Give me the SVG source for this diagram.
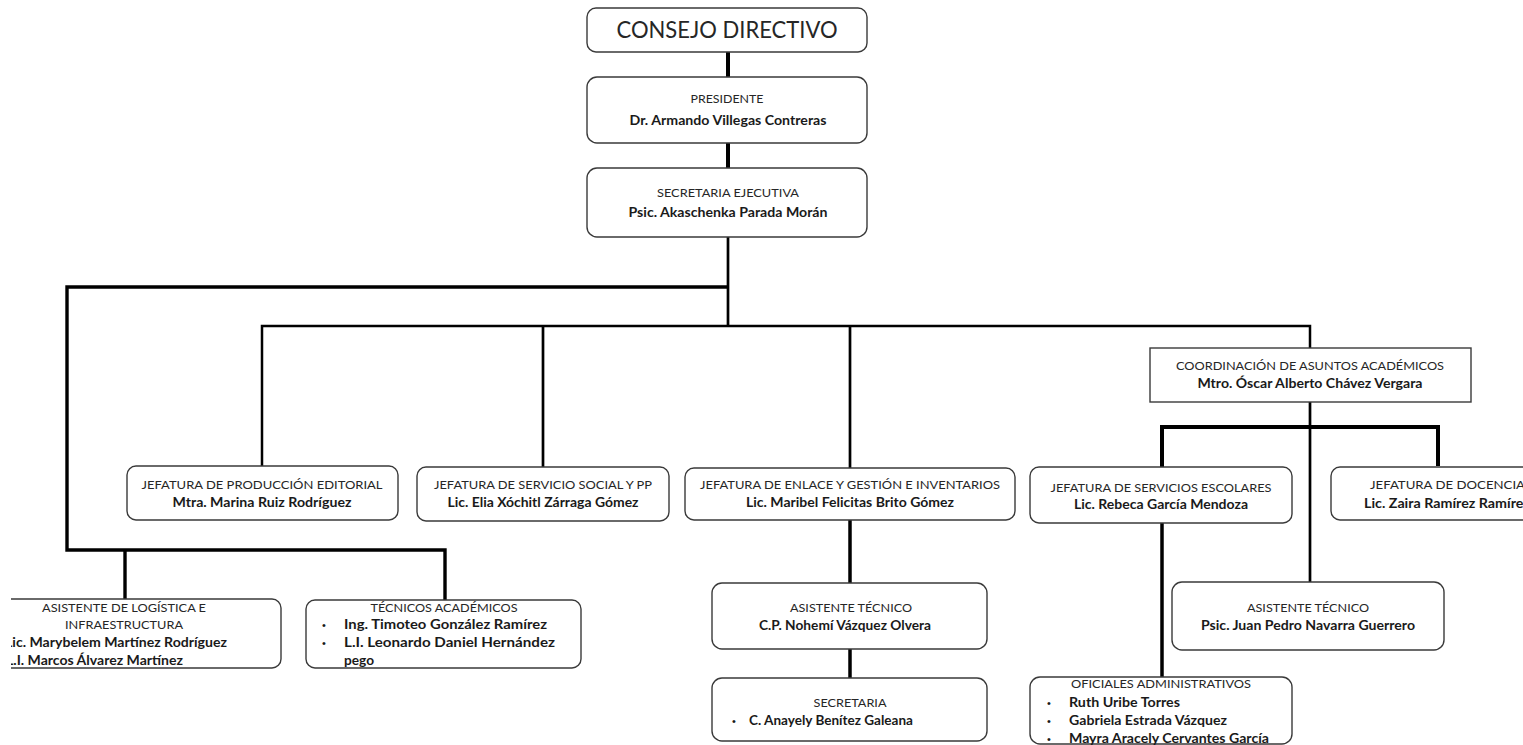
<svg xmlns="http://www.w3.org/2000/svg" width="1523" height="745" viewBox="0 0 1523 745">
<defs>
<style>
.box{fill:#fff;stroke:#3a3a3a;stroke-width:1.4}
.t{font-family:Lato,"Liberation Sans",sans-serif;font-size:12px;fill:#262626;text-anchor:middle}
.n{font-family:Lato,"Liberation Sans",sans-serif;font-size:12.5px;font-weight:bold;fill:#1a1a1a;text-anchor:middle}
.s{text-anchor:start}
.b{font-family:"Liberation Sans",sans-serif;font-size:11px;fill:#1a1a1a;text-anchor:middle}
#connectors path{fill:none;stroke:#000;stroke-linejoin:miter;stroke-linecap:butt}
</style>
<clipPath id="clipL"><rect x="11" y="0" width="400" height="745"/></clipPath>
</defs>
<rect width="1523" height="745" fill="#fff"/>

<g id="connectors">
<path d="M728,52V77" stroke-width="4"/>
<path d="M728,143V168" stroke-width="4"/>
<path d="M728,237V326" stroke-width="2.7"/>
<path d="M728,287H67V550H445V600" stroke-width="3.4"/>
<path d="M125,550V599" stroke-width="3.4"/>
<path d="M262,466V326H1310V348" stroke-width="2.5"/>
<path d="M543,326V467" stroke-width="2.7"/>
<path d="M850,326V468" stroke-width="2.7"/>
<path d="M850,520V583" stroke-width="3.5"/>
<path d="M850,649V678" stroke-width="3.5"/>
<path d="M1310,402V582" stroke-width="2.7"/>
<path d="M1162,467V427H1438V466" stroke-width="4"/>
<path d="M1162,523V677" stroke-width="3.5"/>
</g>

<g id="consejo">
<rect class="box" x="587" y="8" width="280" height="44" rx="9"/>
<text class="t" x="727" y="38" style="font-size:23px" textLength="221" lengthAdjust="spacingAndGlyphs">CONSEJO DIRECTIVO</text>
</g>

<g id="presidente">
<rect class="box" x="587" y="77" width="280" height="66" rx="10"/>
<text class="t" x="727" y="103" textLength="73" lengthAdjust="spacingAndGlyphs">PRESIDENTE</text>
<text class="n" x="728" y="125" textLength="197" lengthAdjust="spacingAndGlyphs">Dr. Armando Villegas Contreras</text>
</g>

<g id="secretaria-ejecutiva">
<rect class="box" x="587" y="168" width="280" height="69" rx="10"/>
<text class="t" x="728" y="197" textLength="142" lengthAdjust="spacingAndGlyphs">SECRETARIA EJECUTIVA</text>
<text class="n" x="728" y="217" textLength="199" lengthAdjust="spacingAndGlyphs">Psic. Akaschenka Parada Morán</text>
</g>

<g id="produccion">
<rect class="box" x="127" y="466" width="271" height="54" rx="9"/>
<text class="t" x="262" y="489" textLength="241" lengthAdjust="spacingAndGlyphs">JEFATURA DE  PRODUCCIÓN EDITORIAL</text>
<text class="n" x="262" y="507" textLength="179" lengthAdjust="spacingAndGlyphs">Mtra. Marina Ruiz Rodríguez</text>
</g>

<g id="servicio-social">
<rect class="box" x="417" y="467" width="252" height="54" rx="9"/>
<text class="t" x="543" y="489" textLength="218" lengthAdjust="spacingAndGlyphs">JEFATURA DE SERVICIO SOCIAL Y PP</text>
<text class="n" x="543" y="507" textLength="191" lengthAdjust="spacingAndGlyphs">Lic. Elia Xóchitl Zárraga Gómez</text>
</g>

<g id="enlace">
<rect class="box" x="685" y="468" width="330" height="52" rx="9"/>
<text class="t" x="850" y="489" textLength="300" lengthAdjust="spacingAndGlyphs">JEFATURA DE ENLACE Y GESTIÓN E INVENTARIOS</text>
<text class="n" x="850" y="507" textLength="208" lengthAdjust="spacingAndGlyphs">Lic. Maribel Felicitas Brito Gómez</text>
</g>

<g id="coordinacion">
<rect class="box" x="1150" y="348" width="321" height="54"/>
<text class="t" x="1310" y="370" textLength="268" lengthAdjust="spacingAndGlyphs">COORDINACIÓN DE ASUNTOS ACADÉMICOS</text>
<text class="n" x="1310" y="388" textLength="225" lengthAdjust="spacingAndGlyphs">Mtro. Óscar Alberto Chávez Vergara</text>
</g>

<g id="escolares">
<rect class="box" x="1030" y="467" width="262" height="56" rx="9"/>
<text class="t" x="1161" y="492" textLength="221" lengthAdjust="spacingAndGlyphs">JEFATURA DE SERVICIOS ESCOLARES</text>
<text class="n" x="1161" y="509" textLength="174" lengthAdjust="spacingAndGlyphs">Lic. Rebeca García Mendoza</text>
</g>

<g id="docencia">
<rect class="box" x="1331" y="467" width="232" height="53" rx="9"/>
<text class="t s" x="1370" y="489" textLength="155" lengthAdjust="spacingAndGlyphs">JEFATURA DE DOCENCIA</text>
<text class="n s" x="1364" y="508" textLength="166" lengthAdjust="spacingAndGlyphs">Lic. Zaira Ramírez Ramírez</text>
</g>

<g id="logistica" clip-path="url(#clipL)">
<rect class="box" x="-40" y="599" width="321" height="69" rx="9"/>
<text class="t" x="124" y="612" textLength="164" lengthAdjust="spacingAndGlyphs">ASISTENTE DE LOGÍSTICA E</text>
<text class="t" x="124" y="629" textLength="118" lengthAdjust="spacingAndGlyphs">INFRAESTRUCTURA</text>
<text class="n s" x="5" y="647" textLength="222" lengthAdjust="spacingAndGlyphs">Lic. Marybelem Martínez Rodríguez</text>
<text class="n s" x="6" y="665" textLength="177" lengthAdjust="spacingAndGlyphs">L.I. Marcos Álvarez Martínez</text>
</g>

<g id="tecnicos">
<rect class="box" x="306" y="600" width="275" height="68" rx="9"/>
<text class="t" x="444" y="612" textLength="147" lengthAdjust="spacingAndGlyphs">TÉCNICOS ACADÉMICOS</text>
<text class="b" x="324" y="629">•</text>
<text class="b" x="324" y="647">•</text>
<text class="n s" x="344" y="629" textLength="203" lengthAdjust="spacingAndGlyphs">Ing. Timoteo González Ramírez</text>
<text class="n s" x="344" y="647" textLength="211" lengthAdjust="spacingAndGlyphs">L.I. Leonardo Daniel Hernández</text>
<text class="n s" x="344" y="665" textLength="30" lengthAdjust="spacingAndGlyphs">pego</text>
</g>

<g id="asistente-enlace">
<rect class="box" x="712" y="583" width="275" height="66" rx="10"/>
<text class="t" x="851" y="612" textLength="122" lengthAdjust="spacingAndGlyphs">ASISTENTE TÉCNICO</text>
<text class="n" x="845" y="630" textLength="172" lengthAdjust="spacingAndGlyphs">C.P. Nohemí Vázquez Olvera</text>
</g>

<g id="secretaria">
<rect class="box" x="712" y="678" width="275" height="63" rx="10"/>
<text class="t" x="850" y="707" textLength="73" lengthAdjust="spacingAndGlyphs">SECRETARIA</text>
<text class="b" x="734" y="725">•</text>
<text class="n s" x="749" y="725" textLength="164" lengthAdjust="spacingAndGlyphs">C. Anayely Benítez Galeana</text>
</g>

<g id="asistente-coordinacion">
<rect class="box" x="1172" y="582" width="272" height="68" rx="10"/>
<text class="t" x="1308" y="612" textLength="122" lengthAdjust="spacingAndGlyphs">ASISTENTE TÉCNICO</text>
<text class="n" x="1308" y="630" textLength="214" lengthAdjust="spacingAndGlyphs">Psic. Juan Pedro Navarra Guerrero</text>
</g>

<g id="oficiales">
<rect class="box" x="1030" y="677" width="262" height="67" rx="10"/>
<text class="t" x="1161" y="688" textLength="180" lengthAdjust="spacingAndGlyphs">OFICIALES ADMINISTRATIVOS</text>
<text class="b" x="1049" y="707">•</text>
<text class="b" x="1049" y="725">•</text>
<text class="b" x="1049" y="743">•</text>
<text class="n s" x="1069" y="707" textLength="111" lengthAdjust="spacingAndGlyphs">Ruth Uribe Torres</text>
<text class="n s" x="1069" y="725" textLength="158" lengthAdjust="spacingAndGlyphs">Gabriela Estrada Vázquez</text>
<text class="n s" x="1069" y="743" textLength="200" lengthAdjust="spacingAndGlyphs">Mayra Aracely Cervantes García</text>
</g>
</svg>
